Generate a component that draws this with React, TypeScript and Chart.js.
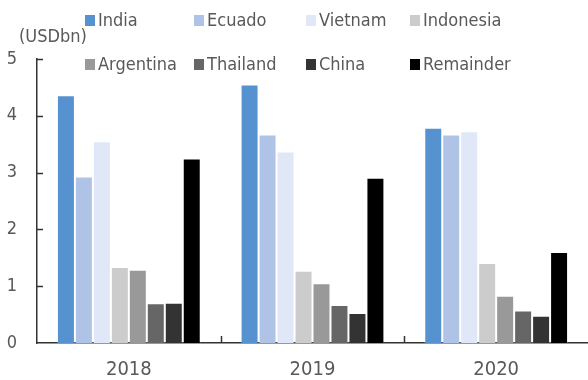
import React, { useEffect, useRef } from 'react';
import { Chart, registerables } from 'chart.js';

Chart.register(...registerables);

const years = ['2018', '2019', '2020'];
const seriesNames = ['India', 'Ecuado', 'Vietnam', 'Indonesia', 'Argentina', 'Thailand', 'China', 'Remainder'];
const india = [4.36, 4.55, 3.79];
const ecuado = [2.93, 3.67, 3.67];
const vietnam = [3.55, 3.37, 3.73];
const indonesia = [1.34, 1.27, 1.41];
const argentina = [1.29, 1.05, 0.83];
const thailand = [0.7, 0.67, 0.57];
const china = [0.71, 0.53, 0.48];
const remainder = [3.25, 2.91, 1.6];
const seriesColors = ['#5692CF', '#AEC3E6', '#E0E8F7', '#CCCCCC', '#999999', '#666666', '#333333', '#000000'];
const yTicks = [0, 1, 2, 3, 4, 5];
const unitLabel = '(USDbn)';

const FONT = "'DejaVu Sans Condensed', 'DejaVu Sans', sans-serif";
const TEXT = '#595959';
const AXIS = '#333333';

const decor = {
  id: 'decor',
  afterDraw(chart: any) {
    const ctx = chart.ctx;
    const { left, right, bottom } = chart.chartArea;
    const y = chart.scales.y;
    ctx.save();
    ctx.strokeStyle = AXIS;
    ctx.lineWidth = 1.5;
    yTicks.forEach((v) => {
      if (v === 0) return;
      const py = Math.round(y.getPixelForValue(v)) + 0.5;
      ctx.beginPath();
      ctx.moveTo(left, py);
      ctx.lineTo(left + 6, py);
      ctx.stroke();
    });
    const n = years.length;
    const w = (right - left) / n;
    for (let i = 1; i < n; i++) {
      const px = Math.round(left + i * w) + 0.5;
      ctx.beginPath();
      ctx.moveTo(px, bottom);
      ctx.lineTo(px, bottom - 7);
      ctx.stroke();
    }
    ctx.fillStyle = TEXT;
    ctx.font = `18px ${FONT}`;
    ctx.textBaseline = 'middle';
    ctx.textAlign = 'left';
    ctx.fillText(unitLabel, 19, 37);
    const cols = [85, 194, 306, 410];
    const rows = [20, 64];
    chart.data.datasets.forEach((ds: any, i: number) => {
      const cx = cols[i % 4];
      const cy = rows[Math.floor(i / 4)];
      ctx.fillStyle = ds.backgroundColor;
      ctx.fillRect(cx, cy - 5, 10, 11);
      ctx.fillStyle = TEXT;
      ctx.fillText(ds.label, cx + 13, cy + 1);
    });
    ctx.restore();
  },
};

export default function App() {
  const ref = useRef<HTMLCanvasElement>(null);
  useEffect(() => {
    if (!ref.current) return;
    const values = [india, ecuado, vietnam, indonesia, argentina, thailand, china, remainder];
    const chart = new Chart(ref.current, {
      type: 'bar',
      data: {
        labels: years,
        datasets: seriesNames.map((name, i) => ({
          label: name,
          data: values[i],
          backgroundColor: seriesColors[i],
          borderColor: 'rgba(255,255,255,0.25)',
          borderWidth: 1,
          categoryPercentage: 0.783,
          barPercentage: 1,
        })),
      },
      options: {
        responsive: false,
        animation: false,
        devicePixelRatio: 1,
        layout: { padding: { top: 59, left: 0, right: 0, bottom: 0 } },
        plugins: { legend: { display: false }, tooltip: { enabled: false } },
        scales: {
          x: {
            grid: { display: false, drawTicks: false },
            border: { display: true, color: AXIS, width: 1.5 },
            ticks: { color: TEXT, font: { family: FONT, size: 20 }, padding: 15 },
            afterFit: (s: any) => { s.height = 37; },
          },
          y: {
            min: 0,
            max: 5,
            grid: { display: false, drawTicks: false },
            border: { display: true, color: AXIS, width: 1.5 },
            ticks: { stepSize: 1, color: TEXT, font: { family: FONT, size: 18 }, padding: 20 },
            afterFit: (s: any) => { s.width = 37; },
          },
        },
      },
      plugins: [decor],
    });
    return () => chart.destroy();
  }, []);
  return (
    <div style={{ position: 'fixed', left: 0, top: 0, width: 588, height: 380, background: '#fff' }}>
      <canvas ref={ref} width={588} height={380} />
    </div>
  );
}
